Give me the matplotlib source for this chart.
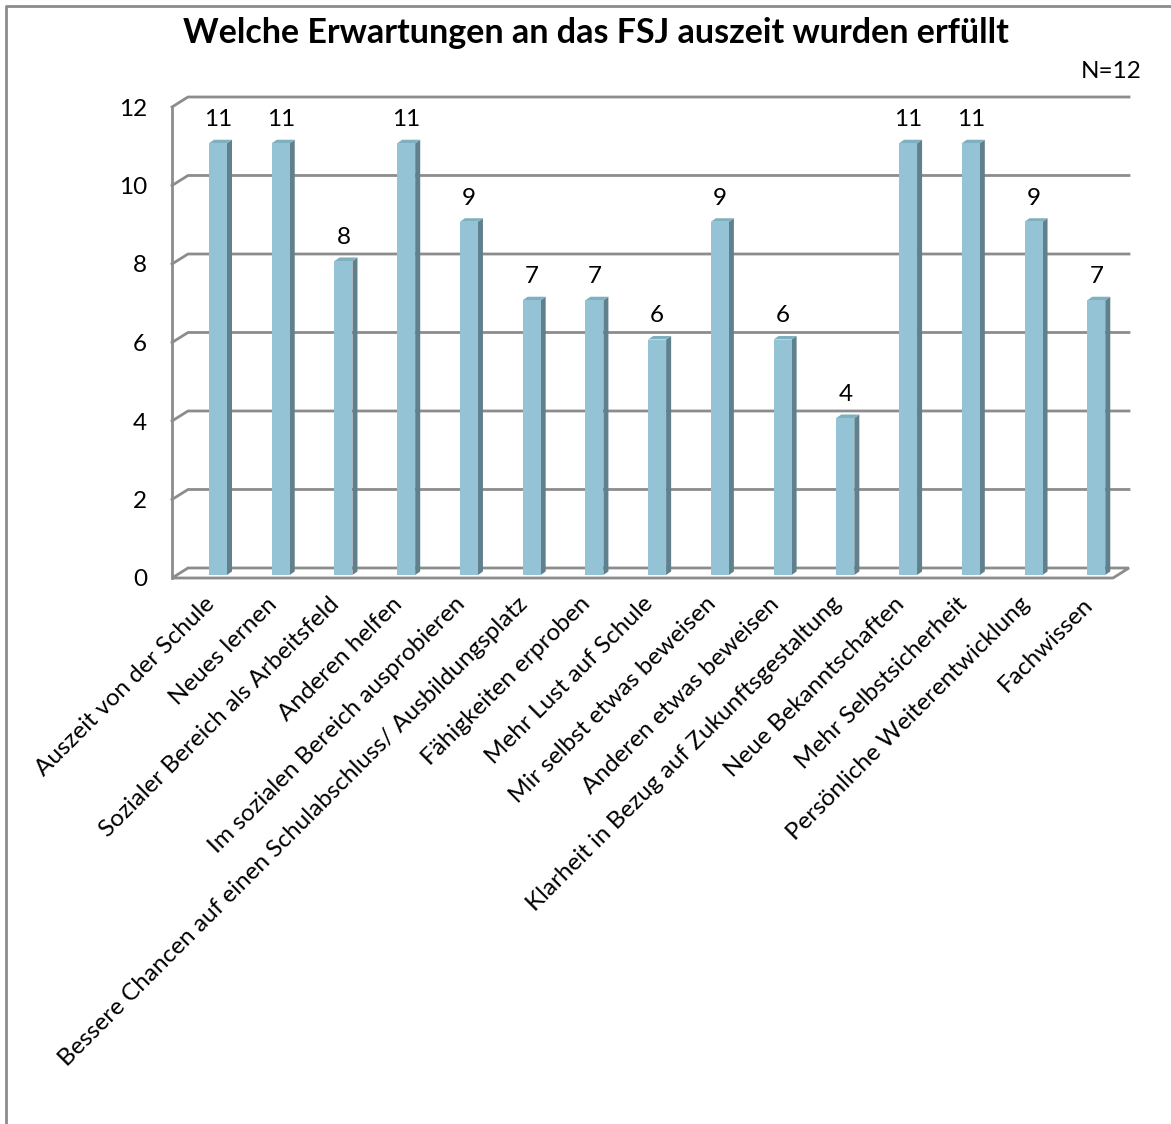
import numpy as np
import matplotlib
matplotlib.use("Agg")
import matplotlib.pyplot as plt
from matplotlib.patches import Polygon, Rectangle
from matplotlib.lines import Line2D

plt.rcParams['font.family'] = ['Lato', 'DejaVu Sans']

# data
categories = [
    "Auszeit von der Schule",
    "Neues lernen",
    "Sozialer Bereich als Arbeitsfeld",
    "Anderen helfen",
    "Im sozialen Bereich ausprobieren",
    "Bessere Chancen auf einen Schulabschluss/ Ausbildungsplatz",
    "Fähigkeiten erproben",
    "Mehr Lust auf Schule",
    "Mir selbst etwas beweisen",
    "Anderen etwas beweisen",
    "Klarheit in Bezug auf Zukunftsgestaltung",
    "Neue Bekanntschaften",
    "Mehr Selbstsicherheit",
    "Persönliche Weiterentwicklung",
    "Fachwissen",
]
values = [11, 11, 8, 11, 9, 7, 7, 6, 9, 6, 4, 11, 11, 9, 7]
yticks = [0, 2, 4, 6, 8, 10, 12]
title = "Welche Erwartungen an das FSJ auszeit wurden erfüllt"
note = "N=12"

# 3d look
DX, DY = 0.255, 0.255        # depth of the walls (data units)
BX, BY = 0.233, 0.076        # bar position inside the depth
BW = 0.287                   # bar face width
SX, SY = 0.08, 0.09          # bar side depth
FACE = "#93c3d5"
SIDE = "#5f808c"
TOP = "#7fb0c0"
GRID = "#8c8c8c"
FS = 17.5

W, H = 1171, 1124
fig = plt.figure(figsize=(W / 100, H / 100), dpi=100)
ax = fig.add_axes([172 / W, (H - 578) / H, 941 / W, 471 / H])
n = len(categories)
x = np.arange(n)
ax.set_xlim(-0.5, n - 0.5)
ax.set_ylim(0, 12)
for s in ax.spines.values():
    s.set_visible(False)

x0, x1 = -0.5, n - 0.5
# gridlines on side and back wall
for v in yticks[1:]:
    ax.add_line(Line2D([x0, x0 + DX, x1 + DX], [v, v + DY, v + DY],
                       color=GRID, lw=2, clip_on=False, zorder=1))
# left wall edge
ax.add_line(Line2D([x0, x0], [0, 12], color=GRID, lw=2, clip_on=False, zorder=1))
# floor
ax.add_patch(Polygon([[x0, 0], [x1, 0], [x1 + DX, DY], [x0 + DX, DY]], closed=True,
                     facecolor="white", edgecolor=GRID, lw=2, clip_on=False, zorder=1))

# bars
for xi, v in zip(x, values):
    l = xi + BX - BW / 2
    r = xi + BX + BW / 2
    b = BY
    t = v + BY
    ax.add_patch(Polygon([[r, b], [r + SX, b + SY], [r + SX, t + SY], [r, t]],
                         closed=True, facecolor=SIDE, edgecolor="none", clip_on=False, zorder=3))
    ax.add_patch(Polygon([[l, t], [r, t], [r + SX, t + SY], [l + SX, t + SY]],
                         closed=True, facecolor=TOP, edgecolor="none", clip_on=False, zorder=3))
    ax.add_patch(Rectangle((l, b), BW, v, facecolor=FACE, edgecolor="none",
                           clip_on=False, zorder=4))
    ax.annotate(str(v), (xi + BX, t + SY), xytext=(0, 7), textcoords="offset points",
                ha="center", va="bottom", fontsize=FS, color="black")

ax.set_yticks(yticks)
ax.set_yticklabels([str(v) for v in yticks], fontsize=FS)
ax.tick_params(axis="y", length=0, pad=18)
ax.set_xticks(x)
ax.set_xticklabels(categories, rotation=45, ha="right", rotation_mode="anchor", fontsize=FS)
ax.tick_params(axis="x", length=0, pad=11)

fig.text(596 / W, 1 - 33 / H, title, ha="center", va="center", fontsize=24.5, fontweight="bold")
fig.text(1142 / W, 1 - 71 / H, note, ha="right", va="center", fontsize=FS)

# chart area border (left and top edges visible)
fig.add_artist(Line2D([6 / W, 6 / W, 1], [0, 1 - 6 / H, 1 - 6 / H],
                      transform=fig.transFigure, color="#8c8c8c", lw=2))

fig.savefig("out.png", dpi=100)
